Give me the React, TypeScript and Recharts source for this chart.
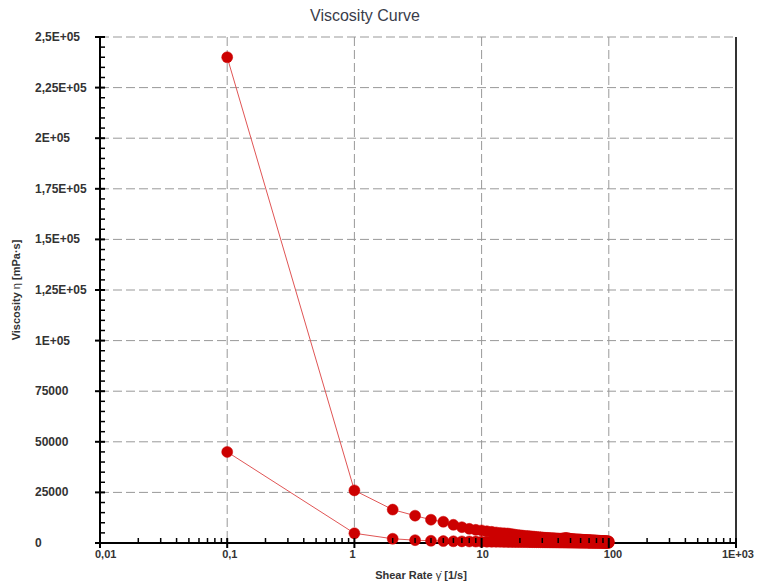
import { CartesianGrid, Label, Line, LineChart, ReferenceLine, XAxis, YAxis } from "recharts";

// shear rate steps [1/s]
const shearRate = [
  0.1, 1, 2, 3, 4, 5, 6, 7, 8, 9, 10,
  11, 12, 13, 14, 15, 16, 17, 18, 19, 20,
  21, 22, 23, 24, 25, 26, 27, 28, 29, 30,
  31, 32, 33, 34, 35, 36, 37, 38, 39, 40,
  41, 42, 43, 44, 45, 46, 47, 48, 49, 50,
  51, 52, 53, 54, 55, 56, 57, 58, 59, 60,
  61, 62, 63, 64, 65, 66, 67, 68, 69, 70,
  71, 72, 73, 74, 75, 76, 77, 78, 79, 80,
  81, 82, 83, 84, 85, 86, 87, 88, 89, 90,
  91, 92, 93, 94, 95, 96, 97, 98, 99, 100,
];

// viscosity [mPa·s], first run
const viscosityUp = [
  240000, 26000, 16500, 13500, 11500, 10500, 9000, 7800, 7000, 6500, 6200,
  5800, 5500, 5200, 5000, 4800, 4700, 4500, 4200, 4000, 3800,
  3650, 3500, 3400, 3300, 3200, 3100, 3000, 2900, 2800, 2700,
  2600, 2550, 2500, 2450, 2400, 2350, 2300, 2250, 2200, 2150,
  2100, 2100, 2150, 2250, 2400, 2450, 2400, 2250, 2100, 2000,
  1950, 1900, 1850, 1800, 1780, 1750, 1720, 1700, 1670, 1640,
  1600, 1570, 1540, 1510, 1490, 1460, 1430, 1410, 1390, 1360,
  1340, 1310, 1290, 1270, 1250, 1230, 1210, 1190, 1170, 1150,
  1130, 1110, 1090, 1070, 1050, 1030, 1010, 990, 970, 950,
  930, 910, 890, 870, 850, 830, 810, 790, 770, 750,
];

// viscosity [mPa·s], second run
const viscosityDown = [
  45000, 4800, 2100, 1400, 1100, 950, 850, 800, 750, 700, 650,
  620, 600, 580, 560, 540, 520, 500, 490, 480, 470,
  460, 450, 440, 430, 420, 410, 400, 390, 380, 370,
  360, 355, 350, 345, 340, 335, 330, 325, 320, 315,
  310, 305, 300, 295, 290, 285, 280, 275, 270, 265,
  260, 255, 250, 245, 240, 235, 230, 225, 220, 215,
  210, 205, 200, 198, 195, 192, 190, 188, 185, 182,
  180, 178, 175, 172, 170, 168, 165, 162, 160, 158,
  155, 152, 150, 148, 145, 142, 140, 138, 135, 132,
  130, 128, 125, 122, 120, 118, 115, 112, 110, 108,
];

const xMajorTicks = [0.01, 0.1, 1, 10, 100, 1000];
const xTickLabels = ["0,01", "0,1", "1", "10", "100", "1E+03"];
const yMajorTicks = [0, 25000, 50000, 75000, 100000, 125000, 150000, 175000, 200000, 225000, 250000];
const yTickLabels = ["0", "25000", "50000", "75000", "1E+05", "1,25E+05", "1,5E+05", "1,75E+05", "2E+05", "2,25E+05", "2,5E+05"];

const xMinorTicks = xMajorTicks
  .slice(0, -1)
  .flatMap((d) => [2, 3, 4, 5, 6, 7, 8, 9].map((m) => Number((d * m).toPrecision(3))));
const yMinorTicks = Array.from({ length: 50 }, (_, i) => i * 5000).filter((v) => v % 25000 !== 0);

const upData = shearRate.map((x, i) => ({ x, v: viscosityUp[i] }));
const downData = shearRate.map((x, i) => ({ x, v: viscosityDown[i] }));

const FONT = "'Liberation Sans', Arial, sans-serif";
const INK = "#333";

const XTick = ({ x, y, payload }: any) => {
  const i = xMajorTicks.indexOf(payload.value);
  if (i < 0) return <line x1={x} x2={x} y1={y} y2={y - 5} stroke="#000" strokeWidth={1.5} />;
  const last = i === xMajorTicks.length - 1;
  return (
    <g>
      <line x1={x} x2={x} y1={y - 5} y2={y + 5} stroke="#000" strokeWidth={2} />
      <text
        x={last ? x + 18 : x - 5}
        y={y + 15}
        textAnchor={last ? "end" : "start"}
        fontFamily={FONT}
        fontSize={11}
        fontWeight="bold"
        fill={INK}
      >
        {xTickLabels[i]}
      </text>
    </g>
  );
};

const YTick = ({ x, y, payload }: any) => {
  const i = yMajorTicks.indexOf(payload.value);
  if (i < 0) return <line x1={x} x2={x + 5} y1={y} y2={y} stroke="#000" strokeWidth={1.5} />;
  return (
    <g>
      <line x1={x - 5} x2={x + 5} y1={y} y2={y} stroke="#000" strokeWidth={2} />
      <text x={35} y={y + 4} textAnchor="start" fontFamily={FONT} fontSize={12} fontWeight="bold" fill={INK}>
        {yTickLabels[i]}
      </text>
    </g>
  );
};

const XTitle = ({ viewBox }: any) => (
  <text
    x={viewBox.x + viewBox.width / 2 + 3}
    y={viewBox.y + 36}
    textAnchor="middle"
    fontFamily={FONT}
    fontSize={11}
    fontWeight="bold"
    fill={INK}
  >
    Shear Rate <tspan fontWeight="normal">γ̇</tspan> [1/s]
  </text>
);

const YTitle = ({ viewBox }: any) => {
  const cx = viewBox.x + 20;
  const cy = viewBox.y + viewBox.height / 2;
  return (
    <text
      x={cx}
      y={cy}
      transform={`rotate(-90 ${cx} ${cy})`}
      textAnchor="middle"
      fontFamily={FONT}
      fontSize={11}
      fontWeight="bold"
      fill={INK}
    >
      Viscosity <tspan fontWeight="normal">η</tspan> [mPa·s]
    </text>
  );
};

const dotStyle = { r: 5.5, fill: "#cc0000", stroke: "#cc0000", strokeWidth: 0.5 };

export default function App() {
  return (
    <div style={{ position: "absolute", left: 0, top: 0, width: 760, height: 583, background: "#fff" }}>
      <div
        style={{
          position: "absolute",
          left: 0,
          top: 7,
          width: 730,
          textAlign: "center",
          fontFamily: FONT,
          fontSize: 16,
          color: "#3a3d4a",
        }}
      >
        Viscosity Curve
      </div>
      <LineChart width={760} height={583} margin={{ top: 37, right: 24, bottom: 0, left: 0 }}>
        <CartesianGrid
          horizontalValues={yMajorTicks.slice(1)}
          verticalValues={[0.1, 1, 10, 100]}
          stroke="#999"
          strokeDasharray="9 4"
        />
        <XAxis
          dataKey="x"
          type="number"
          scale="log"
          domain={[0.01, 1000]}
          allowDataOverflow
          ticks={[...xMajorTicks, ...xMinorTicks]}
          interval={0}
          tick={<XTick />}
          tickLine={false}
          tickSize={0}
          tickMargin={0}
          height={40}
          axisLine={{ stroke: "#000", strokeWidth: 2 }}
          label={<Label content={<XTitle />} />}
        />
        <YAxis
          type="number"
          domain={[0, 250000]}
          ticks={[...yMajorTicks, ...yMinorTicks]}
          interval={0}
          tick={<YTick />}
          tickLine={false}
          tickSize={0}
          tickMargin={0}
          width={100}
          axisLine={{ stroke: "#000", strokeWidth: 2 }}
          label={<Label content={<YTitle />} />}
        />
        <ReferenceLine x={1000} stroke="#333" strokeWidth={2} />
        <Line
          data={upData}
          dataKey="v"
          stroke="#e05555"
          strokeWidth={1}
          dot={dotStyle}
          activeDot={false}
          isAnimationActive={false}
        />
        <Line
          data={downData}
          dataKey="v"
          stroke="#e05555"
          strokeWidth={1}
          dot={dotStyle}
          activeDot={false}
          isAnimationActive={false}
        />
      </LineChart>
    </div>
  );
}
